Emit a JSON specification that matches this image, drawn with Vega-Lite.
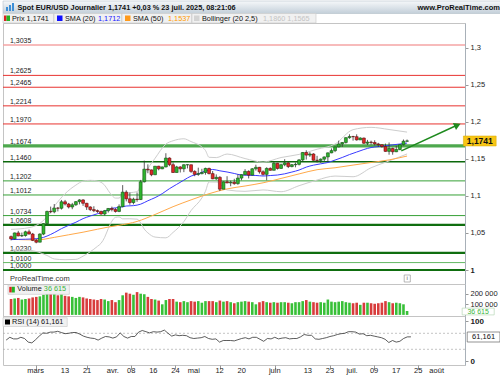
{
"$schema":"https://vega.github.io/schema/vega-lite/v6.json",
"padding":0,"autosize":{"type":"pad"},"background":"white",
"spacing":0,"bounds":"flush",
"resolve":{"scale":{"x":"independent","y":"independent"}},
"config":{"font":"Liberation Sans","locale":{"number":{"decimal":",","thousands":" ","grouping":[3],"currency":["","€"]}},
 "axis":{"labelFont":"Liberation Sans","labelFontSize":7.5,"labelColor":"#222","tickColor":"#999","domainColor":"#a8b0b8","tickSize":3,"labelPadding":2,"grid":false,"title":null,"labelOverlap":false,"labelBound":false},
 "view":{"stroke":"#c4c4c4"}},
"datasets":{
"k":[
{"i":0,"d":"2025-02-19","o":1.0450,"h":1.0465,"l":1.0400,"c":1.0420,"v":150000,"r":53},
{"i":1,"d":"2025-02-20","o":1.0420,"h":1.0505,"l":1.0410,"c":1.0500,"v":155000,"r":60},
{"i":2,"d":"2025-02-21","o":1.0500,"h":1.0528,"l":1.0455,"c":1.0460,"v":160000,"r":56},
{"i":3,"d":"2025-02-24","o":1.0460,"h":1.0505,"l":1.0445,"c":1.0465,"v":145000,"r":56},
{"i":4,"d":"2025-02-25","o":1.0465,"h":1.0530,"l":1.0450,"c":1.0515,"v":150000,"r":60},
{"i":5,"d":"2025-02-26","o":1.0515,"h":1.0545,"l":1.0480,"c":1.0485,"v":155000,"r":57},
{"i":6,"d":"2025-02-27","o":1.0485,"h":1.0500,"l":1.0390,"c":1.0400,"v":165000,"r":48},
{"i":7,"d":"2025-02-28","o":1.0400,"h":1.0420,"l":1.0360,"c":1.0375,"v":170000,"r":46},
{"i":8,"d":"2025-03-03","o":1.0375,"h":1.0495,"l":1.0375,"c":1.0485,"v":175000,"r":54},
{"i":9,"d":"2025-03-04","o":1.0485,"h":1.0630,"l":1.0470,"c":1.0625,"v":190000,"r":63},
{"i":10,"d":"2025-03-05","o":1.0625,"h":1.0800,"l":1.0620,"c":1.0790,"v":200000,"r":71},
{"i":11,"d":"2025-03-06","o":1.0790,"h":1.0855,"l":1.0765,"c":1.0785,"v":205000,"r":70},
{"i":12,"d":"2025-03-07","o":1.0785,"h":1.0890,"l":1.0765,"c":1.0835,"v":200000,"r":73},
{"i":13,"d":"2025-03-10","o":1.0835,"h":1.0850,"l":1.0790,"c":1.0833,"v":185000,"r":73},
{"i":14,"d":"2025-03-11","o":1.0833,"h":1.0945,"l":1.0815,"c":1.0920,"v":195000,"r":75},
{"i":15,"d":"2025-03-12","o":1.0920,"h":1.0945,"l":1.0870,"c":1.0890,"v":180000,"r":72},
{"i":16,"d":"2025-03-13","o":1.0890,"h":1.0905,"l":1.0830,"c":1.0850,"v":175000,"r":69},
{"i":17,"d":"2025-03-14","o":1.0850,"h":1.0905,"l":1.0820,"c":1.0880,"v":170000,"r":70},
{"i":18,"d":"2025-03-17","o":1.0880,"h":1.0930,"l":1.0865,"c":1.0922,"v":160000,"r":72},
{"i":19,"d":"2025-03-18","o":1.0922,"h":1.0955,"l":1.0885,"c":1.0945,"v":170000,"r":72},
{"i":20,"d":"2025-03-19","o":1.0945,"h":1.0955,"l":1.0865,"c":1.0900,"v":165000,"r":68},
{"i":21,"d":"2025-03-20","o":1.0900,"h":1.0905,"l":1.0810,"c":1.0850,"v":155000,"r":63},
{"i":22,"d":"2025-03-21","o":1.0850,"h":1.0860,"l":1.0795,"c":1.0815,"v":150000,"r":60},
{"i":23,"d":"2025-03-24","o":1.0815,"h":1.0860,"l":1.0780,"c":1.0800,"v":145000,"r":58},
{"i":24,"d":"2025-03-25","o":1.0800,"h":1.0815,"l":1.0770,"c":1.0790,"v":140000,"r":57},
{"i":25,"d":"2025-03-26","o":1.0790,"h":1.0800,"l":1.0745,"c":1.0755,"v":150000,"r":53},
{"i":26,"d":"2025-03-27","o":1.0755,"h":1.0810,"l":1.0735,"c":1.0800,"v":145000,"r":58},
{"i":27,"d":"2025-03-28","o":1.0800,"h":1.0835,"l":1.0775,"c":1.0830,"v":130000,"r":62},
{"i":28,"d":"2025-03-31","o":1.0830,"h":1.0855,"l":1.0790,"c":1.0815,"v":140000,"r":61},
{"i":29,"d":"2025-04-01","o":1.0815,"h":1.0835,"l":1.0775,"c":1.0790,"v":120000,"r":58},
{"i":30,"d":"2025-04-02","o":1.0790,"h":1.0885,"l":1.0780,"c":1.0855,"v":140000,"r":61},
{"i":31,"d":"2025-04-03","o":1.0855,"h":1.1145,"l":1.0845,"c":1.1050,"v":185000,"r":71},
{"i":32,"d":"2025-04-04","o":1.1050,"h":1.1075,"l":1.0925,"c":1.0960,"v":210000,"r":62},
{"i":33,"d":"2025-04-07","o":1.0960,"h":1.1045,"l":1.0880,"c":1.0910,"v":200000,"r":58},
{"i":34,"d":"2025-04-08","o":1.0910,"h":1.0975,"l":1.0885,"c":1.0955,"v":190000,"r":62},
{"i":35,"d":"2025-04-09","o":1.0955,"h":1.1045,"l":1.0920,"c":1.0950,"v":215000,"r":62},
{"i":36,"d":"2025-04-10","o":1.0950,"h":1.1215,"l":1.0945,"c":1.1190,"v":200000,"r":73},
{"i":37,"d":"2025-04-11","o":1.1190,"h":1.1475,"l":1.1180,"c":1.1360,"v":195000,"r":77},
{"i":38,"d":"2025-04-14","o":1.1360,"h":1.1425,"l":1.1305,"c":1.1350,"v":170000,"r":74},
{"i":39,"d":"2025-04-15","o":1.1350,"h":1.1355,"l":1.1265,"c":1.1285,"v":150000,"r":71},
{"i":40,"d":"2025-04-16","o":1.1285,"h":1.1400,"l":1.1280,"c":1.1400,"v":145000,"r":74},
{"i":41,"d":"2025-04-17","o":1.1400,"h":1.1405,"l":1.1345,"c":1.1365,"v":135000,"r":73},
{"i":42,"d":"2025-04-18","o":1.1365,"h":1.1395,"l":1.1360,"c":1.1390,"v":100000,"r":74},
{"i":43,"d":"2025-04-21","o":1.1390,"h":1.1575,"l":1.1385,"c":1.1510,"v":140000,"r":78},
{"i":44,"d":"2025-04-22","o":1.1510,"h":1.1520,"l":1.1400,"c":1.1420,"v":150000,"r":70},
{"i":45,"d":"2025-04-23","o":1.1420,"h":1.1450,"l":1.1310,"c":1.1315,"v":150000,"r":63},
{"i":46,"d":"2025-04-24","o":1.1315,"h":1.1405,"l":1.1315,"c":1.1390,"v":125000,"r":66},
{"i":47,"d":"2025-04-25","o":1.1390,"h":1.1400,"l":1.1315,"c":1.1365,"v":120000,"r":64},
{"i":48,"d":"2025-04-28","o":1.1365,"h":1.1425,"l":1.1320,"c":1.1420,"v":130000,"r":65},
{"i":49,"d":"2025-04-29","o":1.1420,"h":1.1425,"l":1.1370,"c":1.1420,"v":120000,"r":64},
{"i":50,"d":"2025-04-30","o":1.1420,"h":1.1420,"l":1.1310,"c":1.1330,"v":130000,"r":59},
{"i":51,"d":"2025-05-01","o":1.1330,"h":1.1345,"l":1.1265,"c":1.1290,"v":125000,"r":57},
{"i":52,"d":"2025-05-02","o":1.1290,"h":1.1380,"l":1.1270,"c":1.1300,"v":130000,"r":58},
{"i":53,"d":"2025-05-05","o":1.1300,"h":1.1365,"l":1.1290,"c":1.1315,"v":115000,"r":59},
{"i":54,"d":"2025-05-06","o":1.1315,"h":1.1380,"l":1.1285,"c":1.1370,"v":130000,"r":62},
{"i":55,"d":"2025-05-07","o":1.1370,"h":1.1380,"l":1.1290,"c":1.1300,"v":130000,"r":57},
{"i":56,"d":"2025-05-08","o":1.1300,"h":1.1335,"l":1.1225,"c":1.1230,"v":130000,"r":55},
{"i":57,"d":"2025-05-09","o":1.1230,"h":1.1290,"l":1.1215,"c":1.1250,"v":120000,"r":56},
{"i":58,"d":"2025-05-12","o":1.1250,"h":1.1265,"l":1.1065,"c":1.1090,"v":135000,"r":48},
{"i":59,"d":"2025-05-13","o":1.1090,"h":1.1195,"l":1.1090,"c":1.1190,"v":125000,"r":52},
{"i":60,"d":"2025-05-14","o":1.1190,"h":1.1265,"l":1.1170,"c":1.1175,"v":130000,"r":52},
{"i":61,"d":"2025-05-15","o":1.1175,"h":1.1205,"l":1.1130,"c":1.1185,"v":120000,"r":52},
{"i":62,"d":"2025-05-16","o":1.1185,"h":1.1230,"l":1.1150,"c":1.1165,"v":110000,"r":51},
{"i":63,"d":"2025-05-19","o":1.1165,"h":1.1290,"l":1.1150,"c":1.1240,"v":120000,"r":54},
{"i":64,"d":"2025-05-20","o":1.1240,"h":1.1290,"l":1.1210,"c":1.1285,"v":125000,"r":57},
{"i":65,"d":"2025-05-21","o":1.1285,"h":1.1360,"l":1.1280,"c":1.1330,"v":130000,"r":59},
{"i":66,"d":"2025-05-22","o":1.1330,"h":1.1345,"l":1.1235,"c":1.1280,"v":125000,"r":56},
{"i":67,"d":"2025-05-23","o":1.1280,"h":1.1375,"l":1.1275,"c":1.1365,"v":120000,"r":60},
{"i":68,"d":"2025-05-26","o":1.1365,"h":1.1420,"l":1.1340,"c":1.1385,"v":100000,"r":60},
{"i":69,"d":"2025-05-27","o":1.1385,"h":1.1390,"l":1.1300,"c":1.1325,"v":120000,"r":55},
{"i":70,"d":"2025-05-28","o":1.1325,"h":1.1345,"l":1.1275,"c":1.1290,"v":130000,"r":50},
{"i":71,"d":"2025-05-29","o":1.1290,"h":1.1385,"l":1.1210,"c":1.1370,"v":120000,"r":57},
{"i":72,"d":"2025-05-30","o":1.1370,"h":1.1385,"l":1.1340,"c":1.1345,"v":115000,"r":56},
{"i":73,"d":"2025-06-02","o":1.1345,"h":1.1455,"l":1.1345,"c":1.1440,"v":120000,"r":60},
{"i":74,"d":"2025-06-03","o":1.1440,"h":1.1445,"l":1.1355,"c":1.1370,"v":115000,"r":56},
{"i":75,"d":"2025-06-04","o":1.1370,"h":1.1435,"l":1.1365,"c":1.1420,"v":120000,"r":58},
{"i":76,"d":"2025-06-05","o":1.1420,"h":1.1495,"l":1.1400,"c":1.1445,"v":120000,"r":59},
{"i":77,"d":"2025-06-06","o":1.1445,"h":1.1455,"l":1.1375,"c":1.1395,"v":115000,"r":56},
{"i":78,"d":"2025-06-09","o":1.1395,"h":1.1430,"l":1.1385,"c":1.1420,"v":110000,"r":57},
{"i":79,"d":"2025-06-10","o":1.1420,"h":1.1450,"l":1.1385,"c":1.1425,"v":120000,"r":57},
{"i":80,"d":"2025-06-11","o":1.1425,"h":1.1495,"l":1.1410,"c":1.1485,"v":120000,"r":61},
{"i":81,"d":"2025-06-12","o":1.1485,"h":1.1590,"l":1.1465,"c":1.1585,"v":130000,"r":67},
{"i":82,"d":"2025-06-13","o":1.1585,"h":1.1615,"l":1.1490,"c":1.1550,"v":140000,"r":65},
{"i":83,"d":"2025-06-16","o":1.1550,"h":1.1590,"l":1.1525,"c":1.1565,"v":125000,"r":65},
{"i":84,"d":"2025-06-17","o":1.1565,"h":1.1575,"l":1.1475,"c":1.1480,"v":120000,"r":56},
{"i":85,"d":"2025-06-18","o":1.1480,"h":1.1540,"l":1.1450,"c":1.1478,"v":115000,"r":55},
{"i":86,"d":"2025-06-19","o":1.1478,"h":1.1505,"l":1.1445,"c":1.1495,"v":120000,"r":57},
{"i":87,"d":"2025-06-20","o":1.1495,"h":1.1530,"l":1.1470,"c":1.1525,"v":115000,"r":59},
{"i":88,"d":"2025-06-23","o":1.1525,"h":1.1585,"l":1.1455,"c":1.1580,"v":145000,"r":62},
{"i":89,"d":"2025-06-24","o":1.1580,"h":1.1640,"l":1.1575,"c":1.1610,"v":125000,"r":64},
{"i":90,"d":"2025-06-25","o":1.1610,"h":1.1665,"l":1.1590,"c":1.1660,"v":120000,"r":67},
{"i":91,"d":"2025-06-26","o":1.1660,"h":1.1745,"l":1.1655,"c":1.1700,"v":125000,"r":69},
{"i":92,"d":"2025-06-27","o":1.1700,"h":1.1725,"l":1.1660,"c":1.1720,"v":130000,"r":70},
{"i":93,"d":"2025-06-30","o":1.1720,"h":1.1790,"l":1.1705,"c":1.1785,"v":120000,"r":74},
{"i":94,"d":"2025-07-01","o":1.1785,"h":1.1830,"l":1.1770,"c":1.1800,"v":115000,"r":74},
{"i":95,"d":"2025-07-02","o":1.1800,"h":1.1810,"l":1.1745,"c":1.1798,"v":110000,"r":73},
{"i":96,"d":"2025-07-03","o":1.1798,"h":1.1830,"l":1.1745,"c":1.1755,"v":115000,"r":68},
{"i":97,"d":"2025-07-04","o":1.1755,"h":1.1790,"l":1.1755,"c":1.1780,"v":95000,"r":69},
{"i":98,"d":"2025-07-07","o":1.1780,"h":1.1785,"l":1.1700,"c":1.1710,"v":115000,"r":64},
{"i":99,"d":"2025-07-08","o":1.1710,"h":1.1755,"l":1.1685,"c":1.1725,"v":115000,"r":65},
{"i":100,"d":"2025-07-09","o":1.1725,"h":1.1745,"l":1.1690,"c":1.1720,"v":110000,"r":63},
{"i":101,"d":"2025-07-10","o":1.1720,"h":1.1750,"l":1.1680,"c":1.1700,"v":105000,"r":61},
{"i":102,"d":"2025-07-11","o":1.1700,"h":1.1715,"l":1.1660,"c":1.1690,"v":110000,"r":59},
{"i":103,"d":"2025-07-14","o":1.1690,"h":1.1690,"l":1.1650,"c":1.1665,"v":115000,"r":55},
{"i":104,"d":"2025-07-15","o":1.1665,"h":1.1705,"l":1.1595,"c":1.1600,"v":130000,"r":47},
{"i":105,"d":"2025-07-16","o":1.1600,"h":1.1720,"l":1.1555,"c":1.1640,"v":120000,"r":52},
{"i":106,"d":"2025-07-17","o":1.1640,"h":1.1650,"l":1.1555,"c":1.1595,"v":110000,"r":48},
{"i":107,"d":"2025-07-18","o":1.1595,"h":1.1675,"l":1.1590,"c":1.1625,"v":115000,"r":50},
{"i":108,"d":"2025-07-21","o":1.1625,"h":1.1695,"l":1.1615,"c":1.1690,"v":110000,"r":57},
{"i":109,"d":"2025-07-22","o":1.1690,"h":1.1760,"l":1.1680,"c":1.1737,"v":100000,"r":61},
{"i":110,"d":"2025-07-23","o":1.1737,"h":1.1760,"l":1.1728,"c":1.1741,"v":36615,"r":61.161}
],
"s20":[{"i":0,"s":1.0410},{"i":2,"s":1.0413},{"i":4,"s":1.0415},{"i":6,"s":1.0419},{"i":8,"s":1.0427},{"i":10,"s":1.0458},{"i":12,"s":1.0504},{"i":14,"s":1.0558},{"i":16,"s":1.0603},{"i":18,"s":1.0644},{"i":20,"s":1.0693},{"i":22,"s":1.0728},{"i":24,"s":1.0759},{"i":26,"s":1.0792},{"i":28,"s":1.0832},{"i":30,"s":1.0843},{"i":32,"s":1.0863},{"i":34,"s":1.0868},{"i":36,"s":1.0888},{"i":38,"s":1.0934},{"i":40,"s":1.0976},{"i":42,"s":1.1030},{"i":44,"s":1.1097},{"i":46,"s":1.1155},{"i":48,"s":1.1212},{"i":50,"s":1.1267},{"i":52,"s":1.1296},{"i":54,"s":1.1337},{"i":56,"s":1.1356},{"i":58,"s":1.1338},{"i":60,"s":1.1322},{"i":62,"s":1.1302},{"i":64,"s":1.1281},{"i":66,"s":1.1277},{"i":68,"s":1.1275},{"i":70,"s":1.1268},{"i":72,"s":1.1274},{"i":74,"s":1.1281},{"i":76,"s":1.1297},{"i":78,"s":1.1321},{"i":80,"s":1.1348},{"i":82,"s":1.1388},{"i":84,"s":1.1414},{"i":86,"s":1.1432},{"i":88,"s":1.1450},{"i":90,"s":1.1483},{"i":92,"s":1.1518},{"i":94,"s":1.1557},{"i":96,"s":1.1591},{"i":98,"s":1.1625},{"i":100,"s":1.1652},{"i":102,"s":1.1664},{"i":104,"s":1.1675},{"i":106,"s":1.1688},{"i":108,"s":1.1699},{"i":110,"s":1.1712}],
"s50":[{"i":0,"s":1.0415},{"i":7,"s":1.0405},{"i":12,"s":1.0440},{"i":16,"s":1.0475},{"i":20,"s":1.0510},{"i":24,"s":1.0550},{"i":27,"s":1.0579},{"i":30,"s":1.0603},{"i":35,"s":1.0655},{"i":40,"s":1.0749},{"i":45,"s":1.0854},{"i":50,"s":1.0946},{"i":55,"s":1.1029},{"i":60,"s":1.1094},{"i":65,"s":1.1133},{"i":70,"s":1.1176},{"i":75,"s":1.1235},{"i":80,"s":1.1296},{"i":85,"s":1.1353},{"i":90,"s":1.1379},{"i":95,"s":1.1415},{"i":100,"s":1.1450},{"i":105,"s":1.1485},{"i":110,"s":1.1537}],
"bb":[{"i":0,"u":1.0548,"lo":1.0272},{"i":5,"u":1.0571,"lo":1.0266},{"i":10,"u":1.0720,"lo":1.0196},{"i":12,"u":1.0859,"lo":1.0149},{"i":15,"u":1.1029,"lo":1.0139},{"i":18,"u":1.1145,"lo":1.0143},{"i":20,"u":1.1199,"lo":1.0187},{"i":22,"u":1.1210,"lo":1.0246},{"i":24,"u":1.1199,"lo":1.0319},{"i":25,"u":1.1183,"lo":1.0361},{"i":26,"u":1.1143,"lo":1.0441},{"i":27,"u":1.1072,"lo":1.0558},{"i":28,"u":1.1006,"lo":1.0658},{"i":29,"u":1.0970,"lo":1.0710},{"i":30,"u":1.0970,"lo":1.0716},{"i":31,"u":1.1022,"lo":1.0690},{"i":33,"u":1.1042,"lo":1.0691},{"i":35,"u":1.1056,"lo":1.0686},{"i":36,"u":1.1141,"lo":1.0635},{"i":37,"u":1.1273,"lo":1.0551},{"i":38,"u":1.1366,"lo":1.0501},{"i":40,"u":1.1507,"lo":1.0444},{"i":43,"u":1.1698,"lo":1.0434},{"i":45,"u":1.1743,"lo":1.0507},{"i":48,"u":1.1770,"lo":1.0653},{"i":50,"u":1.1732,"lo":1.0802},{"i":53,"u":1.1660,"lo":1.0972},{"i":54,"u":1.1612,"lo":1.1062},{"i":55,"u":1.1520,"lo":1.1188},{"i":57,"u":1.1516,"lo":1.1186},{"i":60,"u":1.1564,"lo":1.1080},{"i":65,"u":1.1503,"lo":1.1061},{"i":70,"u":1.1456,"lo":1.1080},{"i":75,"u":1.1517,"lo":1.1056},{"i":80,"u":1.1559,"lo":1.1137},{"i":85,"u":1.1629,"lo":1.1213},{"i":90,"u":1.1699,"lo":1.1267},{"i":95,"u":1.1893,"lo":1.1258},{"i":100,"u":1.1924,"lo":1.1379},{"i":105,"u":1.1895,"lo":1.1471},{"i":110,"u":1.1860,"lo":1.1565}],
"lv":[{"p":1.3035,"k":"rl"},{"p":1.2625,"k":"r"},{"p":1.2465,"k":"r"},{"p":1.2214,"k":"r"},{"p":1.1970,"k":"r"},{"p":1.1674,"k":"gt"},{"p":1.1460,"k":"gd"},{"p":1.1202,"k":"g"},{"p":1.1012,"k":"g"},{"p":1.0734,"k":"g"},{"p":1.0608,"k":"gd2"},{"p":1.0230,"k":"gd2"},{"p":1.0100,"k":"gl"},{"p":1.0000,"k":"gd2"}],
"tl":[{"x1":108.4,"y1":1.1607,"x2":124.0,"y2":1.1955}],
"xl":[{"i":8,"t":"mars","m":1},{"i":16,"t":"13","m":0},{"i":22,"t":"21","m":0},{"i":29,"t":"avr.","m":1},{"i":34,"t":"08","m":0},{"i":40,"t":"16","m":0},{"i":46,"t":"24","m":0},{"i":51,"t":"mai","m":1},{"i":58,"t":"12","m":0},{"i":64,"t":"20","m":0},{"i":73,"t":"juin","m":1},{"i":82,"t":"13","m":0},{"i":88,"t":"23","m":0},{"i":94,"t":"juil.","m":1},{"i":100,"t":"09","m":0},{"i":106,"t":"17","m":0},{"i":112,"t":"25","m":0},{"i":117,"t":"août","m":1}],
"last":[{"i":110,"c":1.1741,"v":36615,"r":61.161,"s20":1.1712,"s50":1.1537,"bu":1.1860,"bl":1.1565}]
},
"vconcat":[
{
"width":500,"height":22,"view":{"stroke":null},
"data":{"name":"last"},
"layer":[
{"mark":{"type":"rect","fill":{"gradient":"linear","x1":0,"y1":0,"x2":0,"y2":1,"stops":[{"offset":0,"color":"#f6f8fa"},{"offset":1,"color":"#c3cfd9"}]},"stroke":"#a9b6c1","strokeWidth":0.5},
 "encoding":{"x":{"datum":0,"type":"quantitative","scale":{"domain":[0,500],"nice":false,"zero":false},"axis":null},"x2":{"datum":500},"y":{"datum":0,"type":"quantitative","scale":{"domain":[0,22],"reverse":true,"nice":false,"zero":false},"axis":null},"y2":{"datum":12.5}}},
{"mark":{"type":"rect","fill":"#3d8fd6"},"encoding":{"x":{"datum":3,"type":"quantitative","axis":null},"x2":{"datum":5},"y":{"datum":6,"type":"quantitative","axis":null},"y2":{"datum":10}}},
{"mark":{"type":"rect","fill":"#3d8fd6"},"encoding":{"x":{"datum":6,"type":"quantitative","axis":null},"x2":{"datum":8},"y":{"datum":4,"type":"quantitative","axis":null},"y2":{"datum":10}}},
{"mark":{"type":"rect","fill":"#3d8fd6"},"encoding":{"x":{"datum":9,"type":"quantitative","axis":null},"x2":{"datum":11},"y":{"datum":2,"type":"quantitative","axis":null},"y2":{"datum":10}}},
{"mark":{"type":"text","text":"Spot EUR/USD Journalier 1,1741 +0,03 % 23 juil. 2025, 08:21:06","align":"left","baseline":"middle","fontSize":7.3,"fontWeight":"bold","color":"#111"},"encoding":{"x":{"datum":14.5,"type":"quantitative","axis":null},"y":{"datum":6.5,"type":"quantitative","axis":null}}},
{"mark":{"type":"text","text":"www.ProRealTime.com","align":"right","baseline":"middle","fontSize":7.5,"fontWeight":"bold","color":"#111"},"encoding":{"x":{"datum":497,"type":"quantitative","axis":null},"y":{"datum":6.5,"type":"quantitative","axis":null}}},
{"mark":{"type":"rect","fill":"#f1f1f1","stroke":"#cdcdcd","strokeWidth":0.7},"encoding":{"x":{"datum":0,"type":"quantitative","axis":null},"x2":{"datum":50.5},"y":{"datum":12.5,"type":"quantitative","axis":null},"y2":{"datum":22}}},
{"mark":{"type":"rect","fill":"#f1f1f1","stroke":"#cdcdcd","strokeWidth":0.7},"encoding":{"x":{"datum":51,"type":"quantitative","axis":null},"x2":{"datum":118.5},"y":{"datum":12.5,"type":"quantitative","axis":null},"y2":{"datum":22}}},
{"mark":{"type":"rect","fill":"#f1f1f1","stroke":"#cdcdcd","strokeWidth":0.7},"encoding":{"x":{"datum":119,"type":"quantitative","axis":null},"x2":{"datum":188.5},"y":{"datum":12.5,"type":"quantitative","axis":null},"y2":{"datum":22}}},
{"mark":{"type":"rect","fill":"#f1f1f1","stroke":"#cdcdcd","strokeWidth":0.7},"encoding":{"x":{"datum":189,"type":"quantitative","axis":null},"x2":{"datum":313},"y":{"datum":12.5,"type":"quantitative","axis":null},"y2":{"datum":22}}},
{"mark":{"type":"rect","fill":"#dd2222"},"encoding":{"x":{"datum":1,"type":"quantitative","axis":null},"x2":{"datum":3.5},"y":{"datum":14.5,"type":"quantitative","axis":null},"y2":{"datum":20}}},
{"mark":{"type":"rect","fill":"#22b322"},"encoding":{"x":{"datum":3.5,"type":"quantitative","axis":null},"x2":{"datum":7},"y":{"datum":14.5,"type":"quantitative","axis":null},"y2":{"datum":20}}},
{"mark":{"type":"rect","fill":"#1010ff"},"encoding":{"x":{"datum":54,"type":"quantitative","axis":null},"x2":{"datum":59.5},"y":{"datum":14.5,"type":"quantitative","axis":null},"y2":{"datum":20}}},
{"mark":{"type":"rect","fill":"#ff9a1a"},"encoding":{"x":{"datum":122,"type":"quantitative","axis":null},"x2":{"datum":127.5},"y":{"datum":14.5,"type":"quantitative","axis":null},"y2":{"datum":20}}},
{"mark":{"type":"rect","fill":"#d3d3d3"},"encoding":{"x":{"datum":191,"type":"quantitative","axis":null},"x2":{"datum":196.5},"y":{"datum":14.5,"type":"quantitative","axis":null},"y2":{"datum":20}}},
{"mark":{"type":"text","text":"Prix 1,1741","align":"left","baseline":"middle","fontSize":7.3,"color":"#111"},"encoding":{"x":{"datum":9,"type":"quantitative","axis":null},"y":{"datum":17.5,"type":"quantitative","axis":null}}},
{"mark":{"type":"text","text":"SMA (20)","align":"left","baseline":"middle","fontSize":7.3,"color":"#111"},"encoding":{"x":{"datum":62,"type":"quantitative","axis":null},"y":{"datum":17.5,"type":"quantitative","axis":null}}},
{"mark":{"type":"text","text":"1,1712","align":"left","baseline":"middle","fontSize":7.3,"color":"#1a1aff"},"encoding":{"x":{"datum":95,"type":"quantitative","axis":null},"y":{"datum":17.5,"type":"quantitative","axis":null}}},
{"mark":{"type":"text","text":"SMA (50)","align":"left","baseline":"middle","fontSize":7.3,"color":"#111"},"encoding":{"x":{"datum":130,"type":"quantitative","axis":null},"y":{"datum":17.5,"type":"quantitative","axis":null}}},
{"mark":{"type":"text","text":"1,1537","align":"left","baseline":"middle","fontSize":7.3,"color":"#ff9900"},"encoding":{"x":{"datum":165,"type":"quantitative","axis":null},"y":{"datum":17.5,"type":"quantitative","axis":null}}},
{"mark":{"type":"text","text":"Bollinger (20 2,5)","align":"left","baseline":"middle","fontSize":7.3,"color":"#111"},"encoding":{"x":{"datum":199,"type":"quantitative","axis":null},"y":{"datum":17.5,"type":"quantitative","axis":null}}},
{"mark":{"type":"text","text":"1,1860 1,1565","align":"left","baseline":"middle","fontSize":7.3,"color":"#c4c4c4"},"encoding":{"x":{"datum":260,"type":"quantitative","axis":null},"y":{"datum":17.5,"type":"quantitative","axis":null}}}
]
},
{
"width":462,"height":261,
"layer":[
{"data":{"name":"lv"},"transform":[{"filter":"indexof(['r','g','gl'], datum.k) >= 0"}],"mark":{"type":"rule","strokeWidth":1},
 "encoding":{"y":{"field":"p","type":"quantitative","scale":{"domain":[0.98112,1.33315],"nice":false,"zero":false},
   "axis":{"orient":"right","values":[1,1.05,1.1,1.15,1.2,1.25,1.3],"format":".2~f","title":null,"labelFontWeight":{"condition":{"test":"datum.value == 1","value":"bold"},"value":"normal"}}},
  "color":{"field":"k","type":"nominal","scale":{"domain":["rl","r","gt","gd","g","gl","gd2"],"range":["#f4a4a4","#e8322f","#4ea84e","#0b680b","#36a036","#62b862","#0f6e0f"]},"legend":null}}},
{"data":{"name":"lv"},"transform":[{"filter":"indexof(['rl','gd'], datum.k) >= 0"}],"mark":{"type":"rule","strokeWidth":1.6},
 "encoding":{"y":{"field":"p","type":"quantitative"},"color":{"field":"k","type":"nominal","legend":null}}},
{"data":{"name":"lv"},"transform":[{"filter":"datum.k == 'gd2'"}],"mark":{"type":"rule","strokeWidth":2.2},
 "encoding":{"y":{"field":"p","type":"quantitative"},"color":{"field":"k","type":"nominal","legend":null}}},
{"data":{"name":"lv"},"transform":[{"filter":"datum.k == 'gt'"}],"mark":{"type":"rule","strokeWidth":3.2},
 "encoding":{"y":{"field":"p","type":"quantitative"},"color":{"field":"k","type":"nominal","legend":null}}},
{"data":{"name":"lv"},"mark":{"type":"text","align":"left","baseline":"bottom","dy":-1,"fontSize":7,"color":"#222"},
 "encoding":{"x":{"datum":-0.3,"type":"quantitative","scale":{"domain":[-0.85,124.7],"nice":false,"zero":false},"axis":null},"y":{"field":"p","type":"quantitative"},"text":{"field":"p","type":"quantitative","format":".4f"}}},
{"data":{"name":"bb"},"mark":{"type":"line","color":"#cdcdcd","strokeWidth":1,"interpolate":"monotone"},
 "encoding":{"x":{"field":"i","type":"quantitative","axis":null},"y":{"field":"u","type":"quantitative"}}},
{"data":{"name":"bb"},"mark":{"type":"line","color":"#cdcdcd","strokeWidth":1,"interpolate":"monotone"},
 "encoding":{"x":{"field":"i","type":"quantitative","axis":null},"y":{"field":"lo","type":"quantitative"}}},
{"data":{"name":"s50"},"mark":{"type":"line","color":"#ffa94a","strokeWidth":1,"interpolate":"monotone"},
 "encoding":{"x":{"field":"i","type":"quantitative","axis":null},"y":{"field":"s","type":"quantitative"}}},
{"data":{"name":"s20"},"mark":{"type":"line","color":"#3a3aff","strokeWidth":1,"interpolate":"monotone"},
 "encoding":{"x":{"field":"i","type":"quantitative","axis":null},"y":{"field":"s","type":"quantitative"}}},
{"data":{"name":"k"},"mark":{"type":"rule","color":"#333","strokeWidth":0.8},
 "encoding":{"x":{"field":"i","type":"quantitative","axis":null},"y":{"field":"l","type":"quantitative"},"y2":{"field":"h"}}},
{"data":{"name":"k"},"mark":{"type":"bar","orient":"vertical","size":2.9,"strokeWidth":0.6},
 "encoding":{"x":{"field":"i","type":"quantitative","axis":null},"y":{"field":"o","type":"quantitative"},"y2":{"field":"c"},
  "fill":{"condition":{"test":"datum.c >= datum.o","value":"#2db52d"},"value":"#e02626"},
  "stroke":{"condition":{"test":"datum.c >= datum.o","value":"#154f15"},"value":"#5e1010"}}},
{"data":{"name":"tl"},"mark":{"type":"rule","color":"#1e8a1e","strokeWidth":1.5},
 "encoding":{"x":{"field":"x1","type":"quantitative","axis":null},"y":{"field":"y1","type":"quantitative"},"x2":{"field":"x2"},"y2":{"field":"y2"}}},
{"data":{"name":"tl"},"mark":{"type":"point","shape":"triangle-up","angle":65.7,"size":60,"filled":true,"color":"#1e8a1e","opacity":1},
 "encoding":{"x":{"field":"x2","type":"quantitative","axis":null},"y":{"field":"y2","type":"quantitative"}}},
{"data":{"name":"last"},"mark":{"type":"rect","fill":"#f7c516","stroke":"#d9a800","strokeWidth":0.5},
 "encoding":{"x":{"datum":125.65,"type":"quantitative","axis":null},"x2":{"datum":134.75},"y":{"datum":1.18074,"type":"quantitative"},"y2":{"datum":1.16725}}},
{"data":{"name":"last"},"mark":{"type":"text","fontSize":8.5,"fontWeight":"bold","color":"#111","align":"center","baseline":"middle"},
 "encoding":{"x":{"datum":130.2,"type":"quantitative","axis":null},"y":{"field":"c","type":"quantitative"},"text":{"field":"c","type":"quantitative","format":".4f"}}},
{"data":{"name":"last"},"mark":{"type":"text","text":"ProRealTime.com","fontSize":7.5,"color":"#333","align":"left","baseline":"middle"},
 "encoding":{"x":{"datum":-0.3,"type":"quantitative","axis":null},"y":{"datum":0.98719,"type":"quantitative"}}},
{"data":{"name":"last"},"mark":{"type":"rect","fill":"white","stroke":"#999","strokeWidth":0.7},
 "encoding":{"x":{"datum":109.2,"type":"quantitative","axis":null},"x2":{"datum":110.9},"y":{"datum":0.99326,"type":"quantitative"},"y2":{"datum":0.98381}}},
{"data":{"name":"last"},"mark":{"type":"text","text":"i","fontSize":6,"color":"#555","align":"center","baseline":"middle"},
 "encoding":{"x":{"datum":110.05,"type":"quantitative","axis":null},"y":{"datum":0.98854,"type":"quantitative"}}}
]
},
{
"width":462,"height":32,
"layer":[
{"data":{"name":"k"},"mark":{"type":"bar","orient":"vertical","size":2.6},
 "encoding":{"x":{"field":"i","type":"quantitative","scale":{"domain":[-0.85,124.7],"nice":false,"zero":false},"axis":null},
  "y":{"field":"v","type":"quantitative","scale":{"domain":[-10377,291509],"nice":false,"zero":false},"stack":null,
   "axis":{"orient":"right","values":[100000,200000],"format":",d","title":null}},
  "color":{"condition":{"test":"datum.c >= datum.o","value":"#38c038"},"value":"#d83c3c"}}},
{"data":{"name":"last"},"mark":{"type":"rect","fill":"#f1f1f1","stroke":"#cdcdcd","strokeWidth":0.7},
 "encoding":{"x":{"datum":-0.85,"type":"quantitative","axis":null},"x2":{"datum":16.2},"y":{"datum":282000,"type":"quantitative"},"y2":{"datum":194000}}},
{"data":{"name":"last"},"mark":{"type":"rect","fill":"#dd2222"},
 "encoding":{"x":{"datum":-0.5,"type":"quantitative","axis":null},"x2":{"datum":0.2},"y":{"datum":265000,"type":"quantitative"},"y2":{"datum":212000}}},
{"data":{"name":"last"},"mark":{"type":"rect","fill":"#22b322"},
 "encoding":{"x":{"datum":0.2,"type":"quantitative","axis":null},"x2":{"datum":1.05},"y":{"datum":265000,"type":"quantitative"},"y2":{"datum":212000}}},
{"data":{"name":"last"},"mark":{"type":"text","text":"Volume","fontSize":7.3,"color":"#111","align":"left","baseline":"middle"},
 "encoding":{"x":{"datum":1.75,"type":"quantitative","axis":null},"y":{"datum":240000,"type":"quantitative"}}},
{"data":{"name":"last"},"mark":{"type":"text","fontSize":7.3,"color":"#3ab53a","align":"left","baseline":"middle"},
 "encoding":{"x":{"datum":9.1,"type":"quantitative","axis":null},"y":{"datum":240000,"type":"quantitative"},"text":{"field":"v","type":"quantitative","format":",d"}}},
{"data":{"name":"last"},"mark":{"type":"rect","fill":"white","stroke":"#b8d8b8","strokeWidth":0.7},
 "encoding":{"x":{"datum":125.3,"type":"quantitative","axis":null},"x2":{"datum":134.2},"y":{"datum":64000,"type":"quantitative"},"y2":{"datum":0}}},
{"data":{"name":"last"},"mark":{"type":"text","fontSize":7,"color":"#3ab53a","align":"center","baseline":"middle"},
 "encoding":{"x":{"datum":129.75,"type":"quantitative","axis":null},"y":{"datum":31000,"type":"quantitative"},"text":{"field":"v","type":"quantitative","format":",d"}}}
]
},
{
"width":462,"height":49,
"layer":[
{"data":{"values":[{"lvl":30},{"lvl":70}]},"mark":{"type":"rule","color":"#aaa","strokeWidth":0.7,"strokeDash":[2,2]},
 "encoding":{"y":{"field":"lvl","type":"quantitative","scale":{"domain":[-9.25,113.25],"nice":false,"zero":false},
  "axis":{"orient":"right","values":[0,50,100],"format":"d","title":null,"labelFontWeight":{"condition":{"test":"datum.value == 0 || datum.value == 100","value":"bold"},"value":"normal"},"labelFontSize":8}}}},
{"data":{"name":"k"},"mark":{"type":"line","color":"#333","strokeWidth":0.8},
 "encoding":{"x":{"field":"i","type":"quantitative","scale":{"domain":[-0.85,124.7],"nice":false,"zero":false},
   "axis":{"orient":"bottom","values":[8,16,22,29,34,40,46,51,58,64,73,82,88,94,100,106,112,117],"labels":false,"domain":false,"tickSize":4,"title":null}},
  "y":{"field":"r","type":"quantitative"}}},
{"data":{"name":"last"},"mark":{"type":"rect","fill":"#f1f1f1","stroke":"#cdcdcd","strokeWidth":0.7},
 "encoding":{"x":{"datum":-0.85,"type":"quantitative"},"x2":{"datum":16.6},"y":{"datum":109,"type":"quantitative"},"y2":{"datum":87}}},
{"data":{"name":"last"},"mark":{"type":"rect","fill":"#000"},
 "encoding":{"x":{"datum":-0.3,"type":"quantitative"},"x2":{"datum":1.05},"y":{"datum":104.5,"type":"quantitative"},"y2":{"datum":92}}},
{"data":{"name":"last"},"mark":{"type":"text","text":"RSI (14)","fontSize":7.3,"color":"#111","align":"left","baseline":"middle"},
 "encoding":{"x":{"datum":1.6,"type":"quantitative"},"y":{"datum":98,"type":"quantitative"}}},
{"data":{"name":"last"},"mark":{"type":"text","fontSize":7.3,"color":"#111","align":"left","baseline":"middle"},
 "encoding":{"x":{"datum":9.5,"type":"quantitative"},"y":{"datum":98,"type":"quantitative"},"text":{"field":"r","type":"quantitative","format":".3f"}}},
{"data":{"name":"last"},"mark":{"type":"rect","fill":"white","stroke":"#666","strokeWidth":0.7},
 "encoding":{"x":{"datum":125.3,"type":"quantitative"},"x2":{"datum":134.2},"y":{"datum":73.25,"type":"quantitative"},"y2":{"datum":48.25}}},
{"data":{"name":"last"},"mark":{"type":"text","fontSize":7.5,"color":"#111","align":"center","baseline":"middle"},
 "encoding":{"x":{"datum":129.75,"type":"quantitative"},"y":{"field":"r","type":"quantitative"},"text":{"field":"r","type":"quantitative","format":".3f"}}}
]
},
{
"width":462,"height":11,"view":{"stroke":null},
"data":{"name":"xl"},
"mark":{"type":"text","fontSize":7.5,"color":"#222","align":"center","baseline":"middle"},
"encoding":{"x":{"field":"i","type":"quantitative","scale":{"domain":[-0.85,124.7],"nice":false,"zero":false},"axis":null},
 "y":{"datum":0.5,"type":"quantitative","scale":{"domain":[0,1],"nice":false,"zero":false},"axis":null},
 "text":{"field":"t"},
 "fontWeight":{"condition":{"test":"datum.m == 1","value":"bold"},"value":"normal"}}
}
]
}
